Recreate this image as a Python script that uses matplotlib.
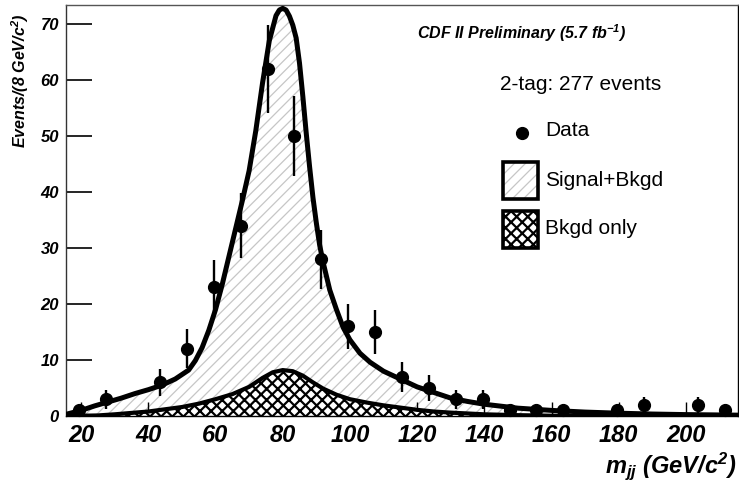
import numpy as np
import matplotlib
matplotlib.use("Agg")
import matplotlib.pyplot as plt
from matplotlib.patches import Rectangle

plt.rcParams["font.family"] = ["Liberation Sans", "DejaVu Sans"]
plt.rcParams["mathtext.fontset"] = "custom"
plt.rcParams["mathtext.it"] = "Liberation Sans:bold:italic"
plt.rcParams["mathtext.rm"] = "Liberation Sans:bold:italic"
plt.rcParams["mathtext.bf"] = "Liberation Sans:bold:italic"
plt.rcParams["hatch.linewidth"] = 1.0

# Dijet mass histogram, 8 GeV/c^2 bins
bin_centers = [19.5, 27.5, 35.5, 43.5, 51.5, 59.5, 67.5, 75.5, 83.5, 91.5,
               99.5, 107.5, 115.5, 123.5, 131.5, 139.5, 147.5, 155.5, 163.5,
               171.5, 179.5, 187.5, 195.5, 203.5, 211.5]
counts = [1, 3, 0, 6, 12, 23, 34, 62, 50, 28,
          16, 15, 7, 5, 3, 3, 1, 1, 1,
          0, 1, 2, 0, 2, 1]

# Fitted signal+background shape
fit_x = [15.5, 20, 24, 28, 32, 36, 40, 44, 48, 52, 54, 56, 58, 60, 62, 64, 66,
         68, 70, 72, 74, 76, 78, 79, 80, 81, 82, 83, 84, 85, 86, 87, 88, 89,
         90, 91, 92, 94, 96, 98, 100, 103, 106, 110, 115, 120, 124, 130, 135,
         140, 150, 160, 170, 180, 190, 200, 215.5]
fit_total = [0.3, 1.0, 1.8, 2.5, 3.2, 4.0, 4.7, 5.5, 6.6, 8.2, 9.9, 12.2, 15.3,
             19.0, 23.5, 28.5, 33.5, 38.5, 43.8, 51.0, 59.5, 67.0, 71.5, 72.5,
             72.8, 72.5, 71.4, 69.8, 67.5, 63.0, 57.0, 50.5, 44.5, 39.0, 34.5,
             30.5, 27.5, 22.5, 19.0, 15.8, 13.6, 11.2, 9.6, 8.0, 6.6, 5.2, 4.4,
             3.2, 2.6, 2.1, 1.4, 1.0, 0.7, 0.5, 0.35, 0.25, 0.15]

# Background-only shape
bkg_x = [15.5, 25, 30, 40, 50, 55, 60, 65, 70, 74, 77, 80, 83, 86, 89, 92,
         96, 100, 105, 110, 115, 120, 125, 130, 140, 150, 160, 215.5]
bkg_y = [0.0, 0.1, 0.3, 0.8, 1.6, 2.2, 3.0, 3.9, 5.2, 6.8, 7.8, 8.2, 8.0,
         7.2, 6.0, 4.9, 3.8, 3.0, 2.4, 1.9, 1.5, 1.1, 0.8, 0.6, 0.3, 0.15,
         0.05, 0.0]

tick_x = [20, 40, 60, 80, 100, 120, 140, 160, 180, 200]
tick_y = [0, 10, 20, 30, 40, 50, 60, 70]

W, H = 739, 486
fig = plt.figure(figsize=(W / 100, H / 100), dpi=100)
L, R, T, B = 66, 738, 5, 416
ax = fig.add_axes([L / W, (H - B) / H, (R - L) / W, (B - T) / H])
ax.set_xlim(15.5, 215.5)
ax.set_ylim(0, 73.4)

fx = np.array(fit_x)
ft = np.array(fit_total)
bx = np.array(bkg_x)
by = np.array(bkg_y)

SIG_HATCH = "#c6c6c6"

# Signal+background area (light diagonal hatch)
with plt.rc_context({"hatch.linewidth": 0.9}):
    ax.fill_between(fx, 0, ft, facecolor="white", edgecolor=SIG_HATCH,
                    hatch="///", linewidth=0, zorder=1)
# Background-only area (dense cross hatch)
with plt.rc_context({"hatch.linewidth": 1.6}):
    ax.fill_between(bx, 0, by, facecolor="white", edgecolor="black",
                    hatch="xxx", linewidth=0, zorder=2)
ax.plot(bx, by, color="black", lw=3.0, zorder=3, solid_capstyle="butt")
ax.plot(fx, ft, color="black", lw=3.6, zorder=4, solid_capstyle="butt")

# Data points with Poisson errors; empty bins are not drawn
c = np.array(counts, dtype=float)
xc = np.array(bin_centers)
m = c > 0
ax.errorbar(xc[m], c[m], yerr=np.sqrt(c[m]), fmt="o", color="black",
            ms=8.5, elinewidth=1.7, capsize=0, zorder=5, clip_on=False)

# Axes styling
ax.set_xticks(tick_x)
ax.set_yticks(tick_y)
ax.tick_params(axis="x", direction="in", length=10, width=1.0, pad=6,
               labelsize=17)
ax.tick_params(axis="y", direction="in", length=19, width=1.2, pad=5,
               labelsize=12)
for lab in ax.get_xticklabels() + ax.get_yticklabels():
    lab.set_fontweight("bold")
    lab.set_fontstyle("italic")
for s in ["left", "bottom", "top", "right"]:
    ax.spines[s].set_linewidth(1.0)
ax.spines["left"].set_color("#333333")
ax.spines["top"].set_color("#555555")

fig.text(20 / W, 1 - 81 / H, r"Events/(8 GeV/c$^2$)", rotation=90,
         ha="center", va="center", fontsize=11.5, fontweight="bold",
         fontstyle="italic")
fig.text(736 / W, 1 - 466 / H, r"$m_{jj}$ (GeV/c$^2$)", ha="right",
         va="center", fontsize=17, fontweight="bold", fontstyle="italic")

# Annotations and legend
def fx_(px):
    return (px - L) / (R - L)

def fy_(py):
    return (B - py) / (B - T)

ax.text(fx_(417), fy_(33), r"CDF II Preliminary (5.7 fb$^{-1}$)",
        transform=ax.transAxes, ha="left", va="center", fontsize=11.5,
        fontweight="bold", fontstyle="italic")
ax.text(fx_(500), fy_(85), "2-tag: 277 events", transform=ax.transAxes,
        ha="left", va="center", fontsize=15)

ax.plot([fx_(521.5)], [fy_(133)], "o", color="black", ms=8.5,
        transform=ax.transAxes, clip_on=False, zorder=6)
ax.text(fx_(545), fy_(131), "Data", transform=ax.transAxes, ha="left",
        va="center", fontsize=15)

bw, bh = fx_(538) - fx_(503), fy_(162) - fy_(199)
with plt.rc_context({"hatch.linewidth": 0.9}):
    ax.add_patch(Rectangle((fx_(503), fy_(199)), bw, bh,
                           transform=ax.transAxes, facecolor="white",
                           edgecolor=SIG_HATCH, hatch="///", linewidth=0,
                           zorder=6))
ax.add_patch(Rectangle((fx_(503), fy_(199)), bw, bh, transform=ax.transAxes,
                       facecolor="none", edgecolor="black", linewidth=2.6,
                       zorder=7))
ax.text(fx_(545), fy_(180), "Signal+Bkgd", transform=ax.transAxes,
        ha="left", va="center", fontsize=15)

with plt.rc_context({"hatch.linewidth": 1.6}):
    ax.add_patch(Rectangle((fx_(503), fy_(248)), bw, bh,
                           transform=ax.transAxes, facecolor="white",
                           edgecolor="black", hatch="xxx", linewidth=2.6,
                           zorder=6))
ax.text(fx_(545), fy_(229), "Bkgd only", transform=ax.transAxes,
        ha="left", va="center", fontsize=15)

fig.savefig("out.png", dpi=100)
